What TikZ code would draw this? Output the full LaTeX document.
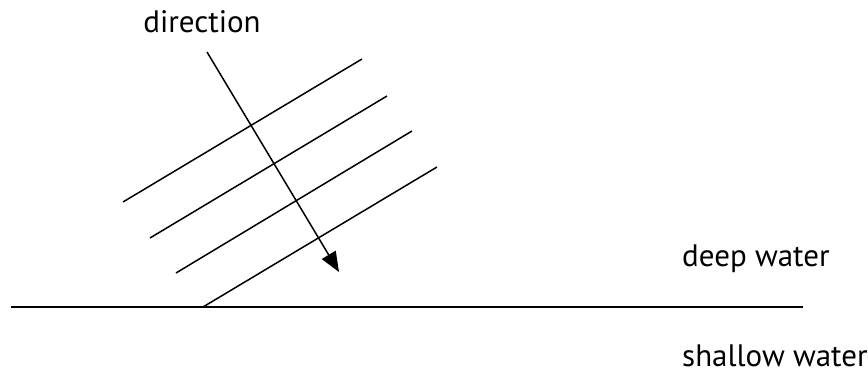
\documentclass[tikz,border=0pt]{standalone}
\usepackage{fontspec}
\setmainfont{PT Sans}
\usetikzlibrary{arrows.meta}

\begin{document}
\begin{tikzpicture}[
  x=1pt, y=-1pt,
  crest/.style={line width=1.5pt},
  shore/.style={line width=2.2pt},
  arrow/.style={-{Triangle[length=20pt,width=16pt]}, line width=1.5pt},
  label/.style={font=\fontsize{31}{36}\selectfont, inner sep=0pt},
]
\useasboundingbox (0,0) rectangle (868,387);

% === Labels ===
\node[label] (dir) at (202,22) {direction};
\node[label, anchor=west] (deep) at (682,259) {deep water};
\node[label, anchor=west] (shallow) at (682,356) {shallow water};

% === Boundary between deep and shallow water ===
\coordinate (b1) at (11,307);
\coordinate (b2) at (803,307);
\draw[shore] (b1) -- (b2);

% === Wave crests ===
\coordinate (w1a) at (123,202); \coordinate (w1b) at (362,59);
\coordinate (w2a) at (150,238); \coordinate (w2b) at (387,96);
\coordinate (w3a) at (176,273); \coordinate (w3b) at (412,131);
\coordinate (w4a) at (203,307); \coordinate (w4b) at (437,167);
\foreach \i in {1,...,4}
  \draw[crest] (w\i a) -- (w\i b);

% === Direction of travel ===
\coordinate (d1) at (207,52);
\coordinate (d2) at (339,272);
\draw[arrow] (d1) -- (d2);

\end{tikzpicture}
\end{document}
